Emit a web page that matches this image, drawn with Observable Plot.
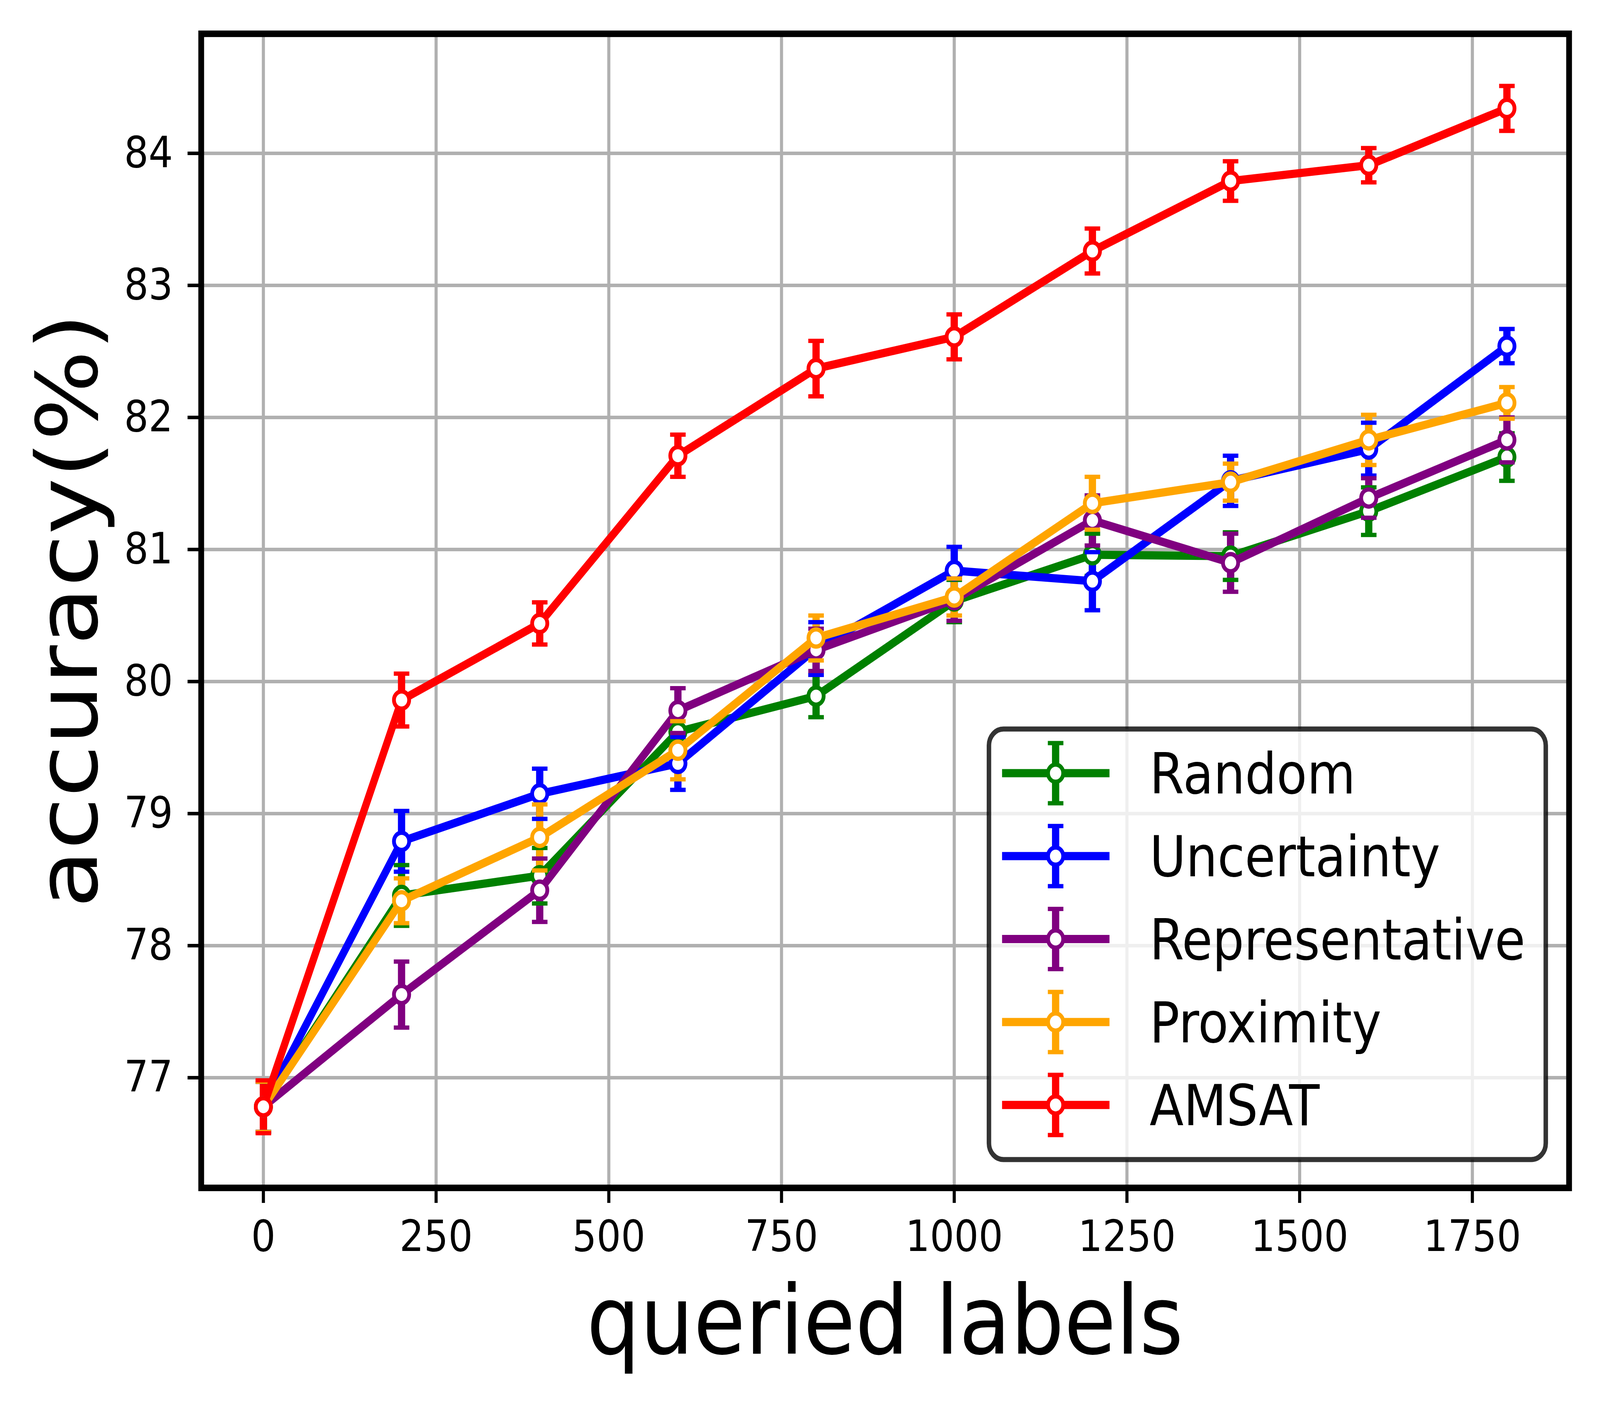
<!DOCTYPE html>
<html>
<head>
<meta charset="utf-8">
<script src="https://cdn.jsdelivr.net/npm/d3@7"></script>
<script src="https://cdn.jsdelivr.net/npm/@observablehq/plot@0.6"></script>
<style>
  html, body { margin: 0; padding: 0; background: white; overflow: hidden; }
  #chart { width: 100vw; height: 100vh; overflow: hidden; }
  #chart svg { display: block; width: 100vw !important; height: 100vh !important; max-width: none !important; }
</style>
</head>
<body>
<div id="chart"></div>
<script>
// ---- data ----
const queried = [0, 200, 400, 600, 800, 1000, 1200, 1400, 1600, 1800];
const methods = ["Random", "Uncertainty", "Representative", "Proximity", "AMSAT"];
const colors = ["green", "blue", "purple", "orange", "red"];

const randomAcc = [76.78, 78.38, 78.53, 79.62, 79.89, 80.61, 80.96, 80.95, 81.29, 81.70];
const randomErr = [0.19, 0.23, 0.21, 0.15, 0.16, 0.16, 0.16, 0.18, 0.18, 0.18];
const uncertaintyAcc = [76.78, 78.79, 79.15, 79.38, 80.25, 80.84, 80.76, 81.52, 81.76, 82.54];
const uncertaintyErr = [0.19, 0.23, 0.19, 0.20, 0.20, 0.18, 0.22, 0.19, 0.20, 0.13];
const representativeAcc = [76.78, 77.63, 78.42, 79.78, 80.24, 80.62, 81.22, 80.90, 81.39, 81.83];
const representativeErr = [0.19, 0.25, 0.24, 0.17, 0.16, 0.16, 0.19, 0.22, 0.15, 0.17];
const proximityAcc = [76.78, 78.34, 78.82, 79.48, 80.33, 80.64, 81.35, 81.51, 81.83, 82.11];
const proximityErr = [0.19, 0.17, 0.25, 0.22, 0.17, 0.14, 0.20, 0.14, 0.19, 0.12];
const amsatAcc = [76.78, 79.86, 80.44, 81.71, 82.37, 82.61, 83.26, 83.79, 83.91, 84.34];
const amsatErr = [0.20, 0.20, 0.16, 0.16, 0.21, 0.17, 0.17, 0.15, 0.13, 0.17];

const xTicks = [0, 250, 500, 750, 1000, 1250, 1500, 1750];
const yTicks = [77, 78, 79, 80, 81, 82, 83, 84];

const accs = [randomAcc, uncertaintyAcc, representativeAcc, proximityAcc, amsatAcc];
const errs = [randomErr, uncertaintyErr, representativeErr, proximityErr, amsatErr];

const rows = [];
methods.forEach((m, i) => {
  queried.forEach((q, j) => rows.push({method: m, color: colors[i], x: q, y: accs[i][j], err: errs[i][j]}));
});

// ---- style ----
const W = 4632, H = 3586;
const mL = 582, mR = 90, mT = 86, mB = 546;
const font = "DejaVu Sans";
const lw = 21, capW = 11, mkR = 22, mkW = 11, capHalf = 22.5;

const capSymbol = {
  draw(context, size) {
    const w = Math.sqrt(size / Math.PI);
    context.moveTo(-w, 0);
    context.lineTo(w, 0);
  }
};

const marks = [
  Plot.gridX({ticks: xTicks, stroke: "#b0b0b0", strokeOpacity: 1, strokeWidth: 9}),
  Plot.gridY({ticks: yTicks, stroke: "#b0b0b0", strokeOpacity: 1, strokeWidth: 9})
];
// error bars (below lines)
methods.forEach((m, i) => {
  const d = rows.filter(r => r.method === m);
  marks.push(Plot.ruleX(d, {x: "x", y1: r => r.y - r.err, y2: r => r.y + r.err, stroke: colors[i], strokeWidth: lw}));
});
methods.forEach((m, i) => {
  const d = rows.filter(r => r.method === m);
  marks.push(Plot.line(d, {x: "x", y: "y", stroke: colors[i], strokeWidth: lw, strokeLinejoin: "round"}));
  marks.push(Plot.dot(d, {x: "x", y: r => r.y + r.err, symbol: capSymbol, r: capHalf, fill: "none", stroke: colors[i], strokeWidth: capW}));
  marks.push(Plot.dot(d, {x: "x", y: r => r.y - r.err, symbol: capSymbol, r: capHalf, fill: "none", stroke: colors[i], strokeWidth: capW}));
  marks.push(Plot.dot(d, {x: "x", y: "y", r: mkR, fill: "white", stroke: colors[i], strokeWidth: mkW}));
});
marks.push(Plot.frame({stroke: "black", strokeWidth: 16.7}));
marks.push(Plot.axisX({ticks: xTicks, tickSize: 39, tickPadding: 44, strokeWidth: 9, tickFormat: d => String(d), label: null, fontSize: 111}));
marks.push(Plot.axisY({ticks: yTicks, tickSize: 39, tickPadding: 43, strokeWidth: 9, tickFormat: d => String(d), label: null, fontSize: 111}));

const chart = Plot.plot({
  width: W, height: H,
  marginLeft: mL, marginRight: mR, marginTop: mT, marginBottom: mB,
  x: {domain: [-90, 1890]},
  y: {domain: [76.166, 84.905]},
  style: {fontFamily: font, fontSize: "111px", background: "white", color: "black"},
  marks
});
chart.setAttribute("viewBox", `0 0 ${W} ${H}`);
chart.setAttribute("preserveAspectRatio", "none");
document.getElementById("chart").appendChild(chart);

// ---- axis titles and legend ----
const svg = d3.select(chart);
svg.append("text")
  .attr("x", (mL + (W - mR)) / 2).attr("y", 3465)
  .attr("text-anchor", "middle")
  .attr("font-family", font).attr("font-size", 244).attr("fill", "black")
  .text("queried labels");
svg.append("text")
  .attr("transform", `translate(281, ${(mT + (H - mB)) / 2}) rotate(-90)`)
  .attr("text-anchor", "middle")
  .attr("font-family", font).attr("font-size", 244).attr("fill", "black")
  .text("accuracy(%)");

const lg = svg.append("g").attr("class", "legend");
lg.append("rect")
  .attr("x", 2863).attr("y", 1866).attr("width", 1612).attr("height", 1102)
  .attr("rx", 42).attr("ry", 42)
  .attr("fill", "white").attr("fill-opacity", 0.8)
  .attr("stroke", "black").attr("stroke-opacity", 0.8).attr("stroke-width", 13);
const rowY0 = 1979, rowStep = 212.3;
methods.forEach((m, i) => {
  const cy = rowY0 + i * rowStep;
  const g = lg.append("g");
  const cx = 3056;
  g.append("line").attr("x1", cx).attr("x2", cx).attr("y1", cy - 77).attr("y2", cy + 77)
    .attr("stroke", colors[i]).attr("stroke-width", lw);
  g.append("line").attr("x1", 2901).attr("x2", 3212).attr("y1", cy).attr("y2", cy)
    .attr("stroke", colors[i]).attr("stroke-width", lw);
  [cy - 77, cy + 77].forEach(yy => g.append("line")
    .attr("x1", cx - capHalf).attr("x2", cx + capHalf).attr("y1", yy).attr("y2", yy)
    .attr("stroke", colors[i]).attr("stroke-width", capW));
  g.append("circle").attr("cx", cx).attr("cy", cy).attr("r", mkR)
    .attr("fill", "white").attr("stroke", colors[i]).attr("stroke-width", mkW);
  g.append("text").attr("x", 3328).attr("y", cy + 52)
    .attr("text-anchor", "start")
    .attr("font-family", font).attr("font-size", 144).attr("fill", "black")
    .text(m);
});
</script>
</body>
</html>
